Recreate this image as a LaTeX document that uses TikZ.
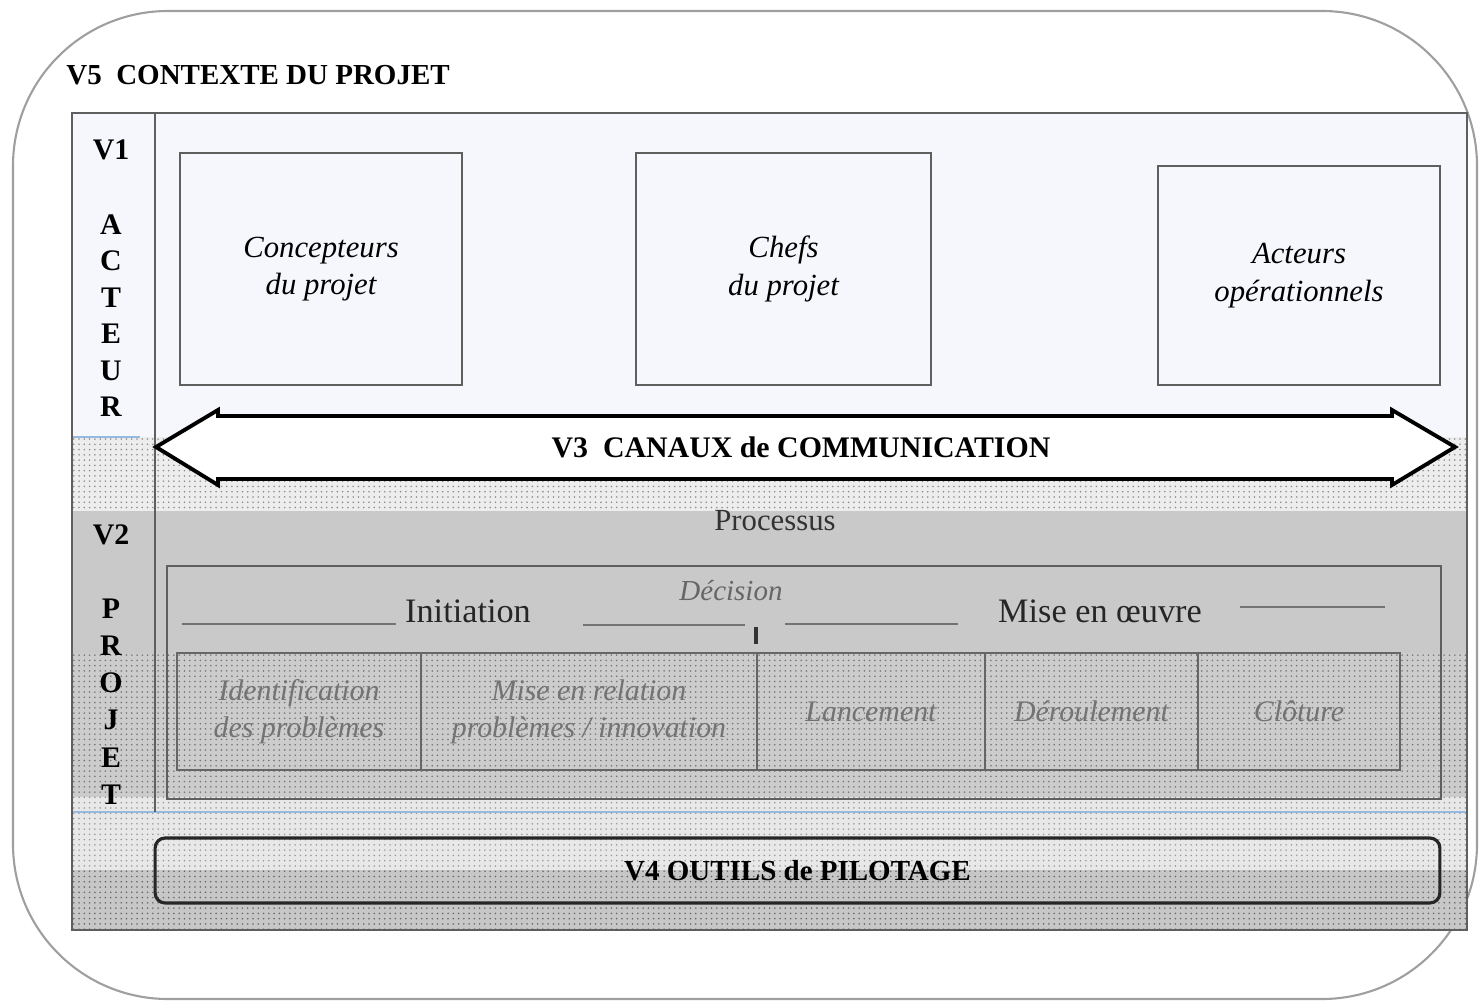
\documentclass[tikz,border=0pt]{standalone}
\usepackage{fontspec}
\setmainfont{Liberation Serif}
\usetikzlibrary{patterns}
\definecolor{paleblue}{RGB}{246,247,252}
\definecolor{lineblue}{RGB}{150,185,225}
\definecolor{framegray}{RGB}{95,95,95}

\begin{document}
\begin{tikzpicture}
  [x=0.02cm,y=-0.02cm,every node/.style={inner sep=0pt,font=\fontsize{17}{21.5}\selectfont}]
  \tikzstyle{acteur} = [draw=framegray,line width=1.1pt,fill=paleblue,align=center,font=\fontsize{17.5}{21.5}\selectfont\itshape]
  \tikzstyle{lettre} = [font=\fontsize{17}{20}\selectfont\bfseries]
  \tikzstyle{etape} = [draw=black!60,line width=1.2pt,align=center,text=black!55,font=\fontsize{17}{21}\selectfont\itshape]
  \tikzstyle{phase} = [draw=black!55,line width=1.3pt]
  \useasboundingbox (0,0) rectangle (1479,1003);

  % V5 : contexte
  \draw[gray!75,line width=1.2pt,rounded corners=3.1cm] (13,11) rectangle (1477,999);
  \node[anchor=west,font=\fontsize{16.5}{20}\selectfont\bfseries] (v5) at (66,75) {V5\ \ CONTEXTE DU PROJET};

  % bandes de fond
  \fill[paleblue] (72,113) rectangle (1467,437);
  \fill[black!7] (72,437) rectangle (1467,511);
  \fill[pattern=dots,pattern color=black!45] (72,437) rectangle (1467,511);
  \fill[black!21] (72,511) rectangle (1467,653);
  \fill[black!20] (72,653) rectangle (1467,797);
  \fill[pattern=dots,pattern color=black!55] (72,653) rectangle (1467,797);
  \fill[black!9] (72,797) rectangle (1467,870);
  \fill[pattern=dots,pattern color=black!40] (72,797) rectangle (1467,870);
  \fill[black!22] (72,870) rectangle (1467,930);
  \fill[pattern=dots,pattern color=black!60] (72,870) rectangle (1467,930);
  \draw[lineblue,line width=1.5pt] (72,437) -- (140,437);
  \draw[lineblue,line width=1.5pt] (72,812) -- (1467,812);
  \draw[framegray,line width=1.1pt] (72,113) rectangle (1467,930);
  \draw[framegray,line width=1.1pt] (155,113) -- (155,812);

  % V1 : acteurs
  \node[lettre] (v1) at (111,150) {V1};
  \foreach \l [count=\i] in {A,C,T,E,U,R}
    \node[lettre] (a\i) at (111,{188+36.5*\i}) {\l};
  \node[acteur,minimum width=5.64cm,minimum height=4.64cm] (conc) at (321,269) {Concepteurs\\du projet};
  \node[acteur,minimum width=5.9cm,minimum height=4.64cm] (chefs) at (783.5,269) {Chefs\\du projet};
  \node[acteur,minimum width=5.64cm,minimum height=4.38cm] (oper) at (1299,275.5) {Acteurs\\opérationnels};

  % V3 : canaux
  \draw[line width=2.2pt,fill=white,line join=miter]
    (156,447) -- (218,410) -- (218,416) -- (1392,416) -- (1392,410) -- (1455,447)
    -- (1392,485) -- (1392,479) -- (218,479) -- (218,485) -- cycle;
  \node[font=\fontsize{17}{20}\selectfont\bfseries] (canaux) at (801,447) {V3\ \ CANAUX de COMMUNICATION};

  % V2 : projet
  \node[lettre] (v2) at (111,535) {V2};
  \foreach \l [count=\i] in {P,R,O,J,E,T}
    \node[lettre] (p\i) at (111,{571+37.3*\i}) {\l};
  \node[font=\fontsize{17.5}{20}\selectfont,text=black!80] (proc) at (775,521) {Processus};
  \draw[framegray,line width=1.1pt] (167,566) rectangle (1441,799);

  \node[font=\fontsize{19.5}{22}\selectfont,text=black!85] (init) at (468,611) {Initiation};
  \node[font=\fontsize{16.5}{20}\selectfont\itshape,text=black!60] (deci) at (731,591) {Décision};
  \node[font=\fontsize{19.5}{22}\selectfont,text=black!85] (miseo) at (1100,611) {Mise en œuvre};
  \draw[phase] (182,624) -- (396,624);
  \draw[phase] (583,625) -- (745,625);
  \draw[phase,line width=2pt,black!80] (756,627) -- (756,644);
  \draw[phase] (785,624) -- (958,624);
  \draw[phase] (1240,607) -- (1385,607);

  \foreach \a/\b/\n/\t in {177/421/ident/{Identification\\des problèmes},
                           421/757/relat/{Mise en relation\\problèmes / innovation},
                           757/985/lanc/Lancement,
                           985/1198/derou/Déroulement,
                           1198/1400/clot/Clôture}
    \node[etape,minimum width={(\b-\a)*0.02cm},minimum height=2.34cm] (\n) at ({(\a+\b)/2},711.5) {\t};

  % V4 : outils
  \node[draw=black!85,line width=1.8pt,rounded corners=0.2cm,minimum width=25.7cm,minimum height=1.3cm,
        font=\fontsize{16.5}{20}\selectfont\bfseries] (v4) at (797.5,870.5) {V4\ OUTILS de PILOTAGE};
\end{tikzpicture}
\end{document}
